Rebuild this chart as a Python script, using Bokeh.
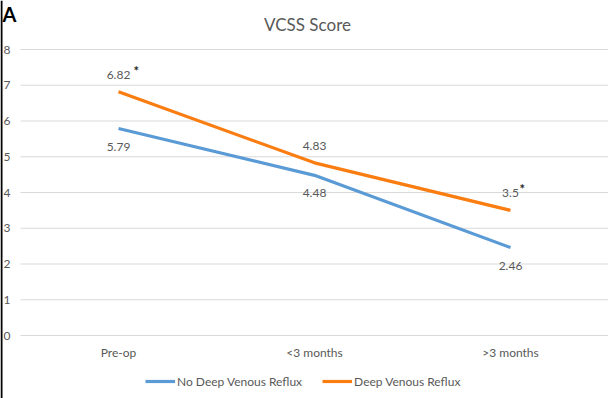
from bokeh.plotting import figure
from bokeh.models import ColumnDataSource, Range1d, Legend, LegendItem, Label, Span
from bokeh.core.properties import value
from bokeh.embed import file_html
from bokeh.resources import INLINE

# ---- data ----
categories = ["Pre-op", "<3 months", ">3 months"]
no_reflux = [5.79, 4.48, 2.46]
reflux = [6.82, 4.83, 3.5]
reflux_labels = ["6.82", "4.83", "3.5"]
no_reflux_labels = ["5.79", "4.48", "2.46"]
reflux_sig = ["*", "", "*"]
y_ticks = [0, 1, 2, 3, 4, 5, 6, 7, 8]
y_tick_labels = ["0", "1", "2", "3", "4", "5", "6", "7", "8"]

FONT = "Lato"
GRAY = "#595959"
BLUE = "#5B9BD5"
ORANGE = "#FA7D12"

W, H = 608, 398
n = len(categories)
# plot area: category band 0..n spans x 20..608 px, value 0..8 spans y 335..49 px
px_per_cat = (W - 20) / n
px_per_val = (335 - 49) / 8
x_rng = Range1d(-20 / px_per_cat, n)
y_rng = Range1d(-(H - 335) / px_per_val, 8 + 49 / px_per_val)

p = figure(width=W, height=H, x_range=x_rng, y_range=y_rng,
           output_backend="svg", toolbar_location=None,
           min_border_left=0, min_border_right=0, min_border_top=0, min_border_bottom=0)
p.outline_line_color = None
p.background_fill_color = "white"
p.xaxis.visible = False
p.yaxis.visible = False
p.xgrid.grid_line_color = None
p.ygrid.grid_line_color = None

xpos = [i + 0.5 for i in range(n)]
src = ColumnDataSource(dict(x=xpos, cat=categories, nr=no_reflux, r=reflux,
                            rl=reflux_labels, nrl=no_reflux_labels, sig=reflux_sig,
                            sig_dx=[len(t) * 6 - 9 for t in reflux_labels],
                            base=[0] * n))
grid = ColumnDataSource(dict(y=y_ticks, lab=y_tick_labels,
                             x0=[0] * len(y_ticks), x1=[n] * len(y_ticks)))

# horizontal gridlines and value-axis labels
p.segment("x0", "y", "x1", "y", source=grid, line_color="#D9D9D9", line_width=1)
p.text("x0", "y", text="lab", source=grid, text_font=value(FONT), text_font_size="12px",
       text_color=GRAY, text_align="right", text_baseline="middle", x_offset=-10)

# category labels under the zero line
p.text("x", "base", text="cat", source=src, text_font=value(FONT), text_font_size="12px",
       text_color=GRAY, text_align="center", text_baseline="middle", y_offset=17)

l1 = p.line("x", "nr", source=src, line_color=BLUE, line_width=3.2)
l2 = p.line("x", "r", source=src, line_color=ORANGE, line_width=3.2)

p.text("x", "r", text="rl", source=src, text_font=value(FONT), text_font_size="12px",
       text_color=GRAY, text_align="center", text_baseline="alphabetic", y_offset=-17)
p.text("x", "r", text="sig", source=src, text_font=value(FONT), text_font_size="13px",
       text_color="#262626", text_font_style="bold", text_align="left",
       text_baseline="alphabetic", y_offset=-21, x_offset="sig_dx")
p.text("x", "nr", text="nrl", source=src, text_font=value(FONT), text_font_size="12px",
       text_color=GRAY, text_align="center", text_baseline="top", y_offset=14)

legend = Legend(items=[LegendItem(label="No Deep Venous Reflux", renderers=[l1]),
                       LegendItem(label="Deep Venous Reflux", renderers=[l2])],
                orientation="horizontal", location=(145, 9),
                label_text_font=FONT, label_text_font_size="12px", label_text_color=GRAY,
                glyph_width=30, glyph_height=16, label_standoff=2, spacing=20,
                border_line_color=None, background_fill_alpha=0, margin=0, padding=0)
p.add_layout(legend, "center")

# chart title and panel letter
p.add_layout(Label(x=307, y=H - 24, x_units="screen", y_units="screen", text="VCSS Score",
                   text_font=FONT, text_font_size="17px", text_color=GRAY,
                   text_align="center", text_baseline="alphabetic"))
p.add_layout(Label(x=2, y=H - 13, x_units="screen", y_units="screen", text="A",
                   text_font=FONT, text_font_size="20px", text_font_style="bold",
                   text_color="black", text_align="left", text_baseline="alphabetic"))
p.add_layout(Span(location=1, location_units="screen", dimension="height",
                  line_color="black", line_width=2))

open("out.html", "w").write(file_html(p, INLINE))
